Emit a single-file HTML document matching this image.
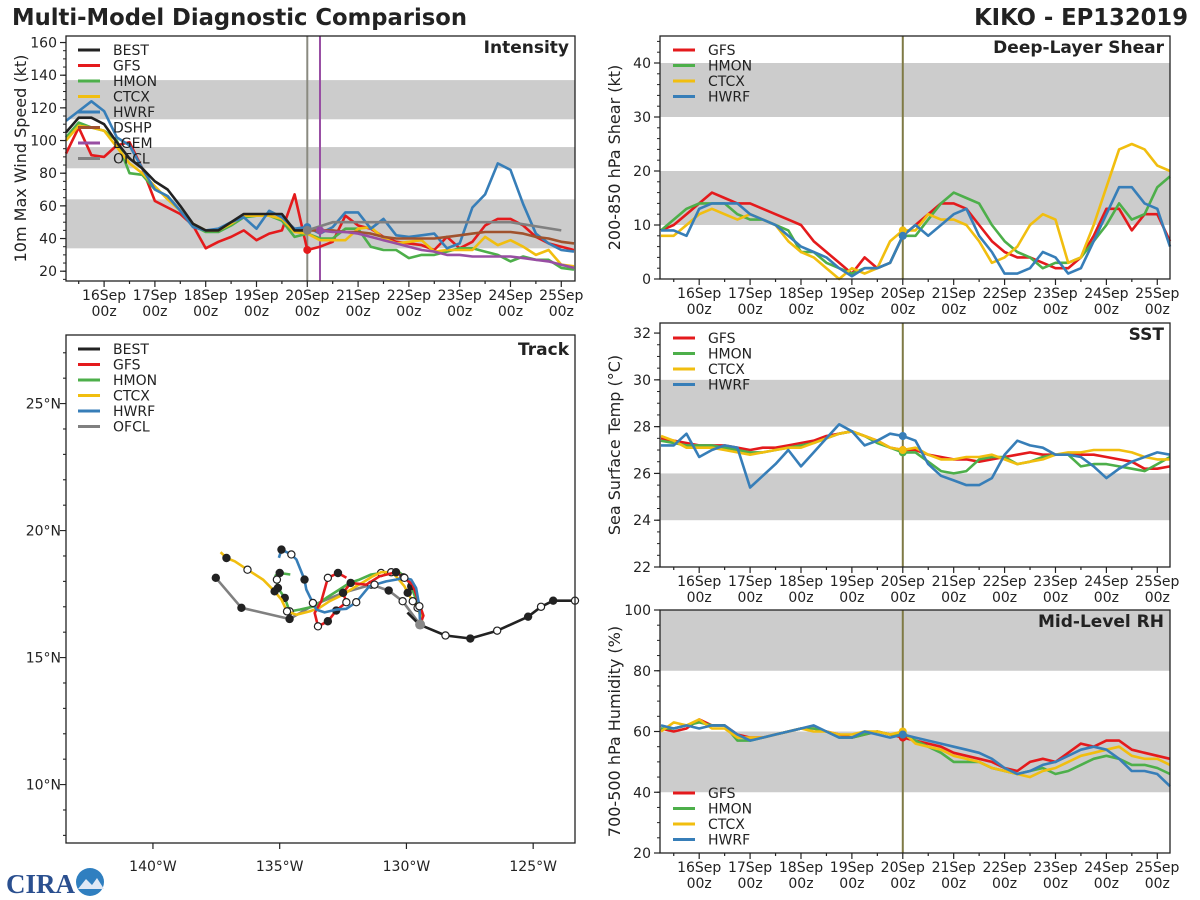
<!DOCTYPE html>
<html><head><meta charset="utf-8">
<style>
html,body{margin:0;padding:0;background:#fff;}
svg{display:block;font-family:"DejaVu Sans","Liberation Sans",sans-serif;}
</style></head>
<body>
<svg id="chart" width="1200" height="900" viewBox="0 0 1200 900" xmlns="http://www.w3.org/2000/svg">
<rect x="0" y="0" width="1200" height="900" fill="#fff"/>
<text x="12" y="25" font-size="22.7" font-weight="bold" fill="#222">Multi-Model Diagnostic Comparison</text>
<text x="1188" y="25" font-size="22.7" font-weight="bold" fill="#222" text-anchor="end">KIKO - EP132019</text>
<g>
<text x="6" y="893" font-size="27" font-weight="bold" fill="#2a4f8f" font-family="Liberation Serif, serif">CIRA</text>
<circle cx="90" cy="882" r="14" fill="#2f7fc0"/>
<path d="M78 889 L86 879 L92 885 L97 878 L104 889 Z" fill="#dfe8f5"/>
</g>
<g id="plots"></g>
</svg>
<script>
// ---------- DATA ----------
const tickDays = [0,1,2,3,4,5,6,7,8,9];
const tickLabels = ["16Sep","17Sep","18Sep","19Sep","20Sep","21Sep","22Sep","23Sep","24Sep","25Sep"];
const seriesStart = -0.75;   // day offset of first 6-hourly value (from 16Sep 00z)
const seriesStep = 0.25;     // 6 h
const initDay = 4;           // 20Sep 00z

// Intensity (kt)
const intBEST = [105,114,114,110,99,89,83,75,70,60,49,45,45,50,55,55,55,55,45,45];
const intGFS  = [92,108,91,90,97,99,83,63,59,55,48,34,38,41,45,39,43,45,67,33,35,38,54,48,46,41,38,37,36,33,41,34,38,48,52,52,48,41,37,35,33];
const intHMON = [102,111,108,106,100,80,79,70,66,57,48,44,44,48,53,54,54,51,41,43,40,40,46,46,35,33,33,28,30,30,32,34,34,32,30,26,29,27,27,22,21];
const intCTCX = [100,109,108,106,96,86,80,72,64,57,49,45,45,49,54,54,54,52,44,43,39,39,39,46,47,40,37,38,39,32,33,33,33,41,36,39,35,30,33,24,23];
const intHWRF = [112,118,124,118,102,97,83,70,66,57,47,45,46,50,53,46,57,53,46,47,43,47,56,56,46,52,42,41,42,43,34,37,59,67,86,82,61,43,37,33,32];
const intDSHP = [45,45,45,44,44,43,41,40,40,40,40,41,42,43,44,44,44,43,41,40,38,37];
const intLGEM = [45,44,44,43,41,39,37,35,33,32,30,30,29,29,29,29,28,27,26,24,22];
const ofclDays = [4,4.5,5,6,7,8,9];
const ofclVals = [45,50,50,50,50,50,45];

// Shear (kt)
const shrGFS  = [9,10,12,14,16,15,14,14,13,12,11,10,7,5,3,1,4,2,3,8,10,12,14,14,13,10,7,5,4,4,3,2,2,4,8,13,13,9,12,12,7];
const shrHMON = [9,11,13,14,14,14,12,11,11,10,9,5,5,3,2,1,2,2,3,8,8,11,14,16,15,14,10,7,5,4,2,3,3,4,7,10,14,11,12,17,19];
const shrCTCX = [8,8,10,12,13,12,11,12,11,10,7,5,4,2,0,2,1,2,7,9,9,12,11,11,10,7,3,4,6,10,12,11,3,4,10,17,24,25,24,21,20];
const shrHWRF = [9,9,8,13,14,14,14,12,11,10,8,6,5,4,2,0.5,2,2,3,8,10,8,10,12,13,8,5,1,1,2,5,4,1,2,7,12,17,17,14,13,6];

// SST (C)
const sstGFS  = [27.5,27.4,27.3,27.2,27.2,27.2,27.1,27.0,27.1,27.1,27.2,27.3,27.4,27.6,27.7,27.8,27.6,27.4,27.1,27.0,27.0,26.8,26.7,26.6,26.6,26.5,26.6,26.7,26.8,26.9,26.8,26.8,26.8,26.8,26.8,26.7,26.6,26.5,26.2,26.2,26.3];
const sstHMON = [27.4,27.3,27.2,27.2,27.2,27.1,27.0,26.9,26.9,27.0,27.1,27.2,27.3,27.5,27.7,27.8,27.6,27.3,27.1,26.9,26.9,26.5,26.1,26.0,26.1,26.6,26.7,26.7,26.4,26.5,26.7,26.8,26.8,26.3,26.4,26.4,26.3,26.2,26.1,26.4,26.7];
const sstCTCX = [27.6,27.4,27.1,27.1,27.1,27.0,26.9,26.8,26.9,27.0,27.1,27.1,27.3,27.5,27.7,27.8,27.6,27.4,27.1,27.0,27.1,26.8,26.6,26.6,26.7,26.7,26.8,26.6,26.4,26.5,26.6,26.8,26.9,26.9,27.0,27.0,27.0,26.9,26.7,26.6,26.6];
const sstHWRF = [27.2,27.2,27.7,26.7,27.0,27.2,27.1,25.4,25.9,26.4,27.0,26.3,26.9,27.5,28.1,27.8,27.2,27.4,27.7,27.6,27.4,26.4,25.9,25.7,25.5,25.5,25.8,26.8,27.4,27.2,27.1,26.8,26.8,26.7,26.3,25.8,26.2,26.5,26.7,26.9,26.8];

// RH (%)
const rhGFS  = [61,60,61,64,62,62,59,58,58,59,60,61,61,60,59,58,59,60,59,58,57,56,55,53,52,51,50,48,47,50,51,50,53,56,55,57,57,54,53,52,51];
const rhHMON = [61,61,62,63,62,62,57,57,58,59,60,61,61,60,58,58,59,60,59,59,57,55,53,50,50,50,48,47,46,47,48,46,47,49,51,52,51,49,49,48,46];
const rhCTCX = [60,63,62,64,61,61,58,58,58,59,60,61,60,60,59,59,60,60,59,60,56,55,54,52,51,50,48,47,46,45,47,48,50,52,53,54,55,52,51,51,49];
const rhHWRF = [62,61,62,61,62,62,59,57,58,59,60,61,62,60,58,58,60,59,58,59,58,57,56,55,54,53,51,48,46,47,49,50,52,54,55,54,51,47,47,46,42];

// Track (lon in deg W, lat in deg N); marks: 0 none, 1 filled, 2 open
const bestLon = [123.35,124.21,124.69,125.2,126.42,127.48,128.46,129.49,129.96];
const bestLat = [17.24,17.24,17.0,16.61,16.06,15.75,15.87,16.3,16.77];
const bestMk  = [2,1,2,1,2,1,2,0,0];
const gfsLon = [129.46,129.33,129.75,130.12,130.41,131.06,131.59,132.2,132.5,132.37,132.77,133.1,133.49,133.62,133.36,133.1,132.7,132.37];
const gfsLat = [16.3,16.65,17.87,18.16,18.36,18.2,17.87,17.94,17.55,17.18,16.85,16.43,16.23,16.76,17.22,18.14,18.33,18.14];
const gfsMk  = [1,0,0,2,1,0,0,1,1,2,1,1,2,0,0,2,1,0];
const hmonLon = [129.46,129.42,129.62,129.81,130.01,130.34,130.67,131.0,131.39,131.85,132.24,132.64,133.16,133.62,134.21,134.61,134.8,135.07,135.11,135.16,135.0,134.58];
const hmonLat = [16.3,16.69,17.28,17.81,18.14,18.4,18.36,18.33,18.27,18.07,17.94,17.68,17.35,17.02,16.89,16.82,17.35,17.74,18.07,18.23,18.33,18.27];
const hmonMk  = [0,0,0,1,0,0,0,2,0,0,0,0,0,0,0,2,1,1,2,0,1,0];
const ctcxLon = [129.49,129.36,129.56,129.75,129.95,130.08,130.41,130.6,131.0,131.33,131.65,131.98,132.5,133.03,133.43,133.82,134.34,134.71,134.93,135.2,135.66,136.27,136.77,137.1,137.33];
const ctcxLat = [16.23,16.37,16.96,17.22,17.55,17.81,18.2,18.36,18.36,18.2,18.0,17.81,17.48,17.22,16.96,16.82,16.69,16.82,17.28,17.61,18.07,18.46,18.79,18.92,19.15];
const ctcxMk  = [0,0,2,2,1,0,0,2,0,0,0,0,0,0,0,0,0,2,0,1,0,2,0,1,0];
const hwrfLon = [129.46,129.49,129.62,129.81,130.08,130.41,130.8,131.26,131.46,131.98,132.37,132.77,133.23,133.55,133.69,133.95,134.02,134.34,134.54,134.93,135.03];
const hwrfLat = [16.3,17.02,17.74,18.07,18.14,18.07,18.0,17.87,17.81,17.18,16.92,16.89,16.78,16.89,17.15,17.68,18.07,18.86,19.06,19.25,18.93];
const hwrfMk  = [0,2,0,0,2,0,0,2,0,2,0,0,0,0,2,0,1,0,2,1,0];
const ofclLon = [129.46,130.15,130.7,131.39,132.5,133.62,134.61,136.51,137.52];
const ofclLat = [16.3,17.22,17.64,17.87,17.55,17.09,16.52,16.96,18.14];
const ofclMk  = [1,2,1,2,1,0,1,1,1];

// ---------- DRAW ----------
const NS = "http://www.w3.org/2000/svg";
const root = document.getElementById("plots");
function mk(tag, attrs, parent){
  const e = document.createElementNS(NS, tag);
  for (const k in attrs) e.setAttribute(k, attrs[k]);
  (parent || root).appendChild(e);
  return e;
}
const C = {BEST:"#222222",GFS:"#e41a1c",HMON:"#4daf4a",CTCX:"#f1be0f",HWRF:"#377eb8",DSHP:"#a0522d",LGEM:"#984ea3",OFCL:"#808080"};

function makeAxis(x0,x1,y0,y1,dx0,dx1,dy0,dy1){
  return {
    x:d=>x0+(d-dx0)/(dx1-dx0)*(x1-x0),
    y:v=>y1-(v-dy0)/(dy1-dy0)*(y1-y0),
    x0,x1,y0,y1
  };
}
function seriesPath(ax, vals, start, name, color, g){
  let d = "";
  vals.forEach((v,i)=>{ d += (i?"L":"M") + ax.x(start+i*seriesStep).toFixed(1) + " " + ax.y(v).toFixed(1); });
  const p = mk("path",{d:d,fill:"none",stroke:color,"stroke-width":2.6,"stroke-linejoin":"round"},g);
  
  
  return p;
}
function initDot(ax, vals, start, color, g, name, day){
  const i = Math.round((day-start)/seriesStep);
  if (i<0 || i>=vals.length) return;
  const c = mk("circle",{cx:ax.x(day),cy:ax.y(vals[i]),r:4,fill:color},g);
  
  
}
function frameAndTimeAxis(ax, g, yTicks, yMinor, bands, ylabel, title, vlines){
  bands.forEach(b=>{
    const r = mk("rect",{x:ax.x0,y:ax.y(b[1]),width:ax.x1-ax.x0,height:ax.y(b[0])-ax.y(b[1]),fill:"#cccccc"},g);
    
    
  });
  yMinor.forEach(v=>{ mk("line",{x1:ax.x0-3,x2:ax.x0,y1:ax.y(v),y2:ax.y(v),stroke:"#222","stroke-width":1},g); });
  yTicks.forEach(v=>{
    mk("line",{x1:ax.x0-6,x2:ax.x0,y1:ax.y(v),y2:ax.y(v),stroke:"#222","stroke-width":1.2},g);
    const t = mk("text",{x:ax.x0-9,y:ax.y(v)+5,"font-size":14,"text-anchor":"end",fill:"#222"},g);
    t.textContent = v;
    
    
  });
  for (let d=-0.5; d<=9.25; d+=0.5){
    const maj = Math.abs(d-Math.round(d))<1e-6;
    mk("line",{x1:ax.x(d),x2:ax.x(d),y1:ax.y1,y2:ax.y1+(maj?6:3),stroke:"#222","stroke-width":1.2},g);
  }
  tickDays.forEach((d,i)=>{
    const t = mk("text",{x:ax.x(d),y:ax.y1+19,"font-size":14,"text-anchor":"middle",fill:"#222"},g);
    t.textContent = tickLabels[i];
    
    
    const t2 = mk("text",{x:ax.x(d),y:ax.y1+35,"font-size":14,"text-anchor":"middle",fill:"#222"},g);
    t2.textContent = "00z";
    
    
  });
  vlines.forEach(v=>{
    const l = mk("line",{x1:ax.x(v[0]),x2:ax.x(v[0]),y1:ax.y0,y2:ax.y1,stroke:v[1],"stroke-width":2},g);
    
    
  });
  const cy = (ax.y0+ax.y1)/2, lx = ax.x0-40;
  const yl = mk("text",{x:lx,y:cy,"font-size":16,"text-anchor":"middle",fill:"#222",transform:`rotate(-90 ${lx} ${cy})`},g);
  yl.textContent = ylabel;
  
  
  const tt = mk("text",{x:ax.x1-6,y:ax.y0+17,"font-size":17,"font-weight":"bold","text-anchor":"end",fill:"#222"},g);
  tt.textContent = title;
  
  
}
function frame(ax,g){
  const f = mk("rect",{x:ax.x0,y:ax.y0,width:ax.x1-ax.x0,height:ax.y1-ax.y0,fill:"none",stroke:"#222","stroke-width":1.3},g);
  
  
}
function legend(g, names, x, y0, dy){
  names.forEach((n,i)=>{
    const y = y0+i*dy;
    const l = mk("line",{x1:x,x2:x+22,y1:y,y2:y,stroke:C[n],"stroke-width":3},g);
    
    
    const t = mk("text",{x:x+35,y:y+5,"font-size":14,fill:"#222"},g);
    t.textContent = n;
    
    
  });
}
function range(a,b,s){const r=[];for(let v=a;v<=b+1e-9;v+=s)r.push(+v.toFixed(3));return r;}

// ---- Intensity ----
{
  const g = mk("g",{});
  
  
  const ax = makeAxis(66,575,36,281,-0.75,9.27,14,164);
  frameAndTimeAxis(ax,g,range(20,160,20),range(15,160,5),[[34,64],[83,96],[113,137]],"10m Max Wind Speed (kt)","Intensity",[[4,"#8a8a80"],[4.25,"#984ea3"]]);
  seriesPath(ax,intGFS,seriesStart,"gfs-line",C.GFS,g);
  seriesPath(ax,intHMON,seriesStart,"hmon-line",C.HMON,g);
  seriesPath(ax,intCTCX,seriesStart,"ctcx-line",C.CTCX,g);
  seriesPath(ax,intHWRF,seriesStart,"hwrf-line",C.HWRF,g);
  seriesPath(ax,intDSHP,initDay,"dshp-line",C.DSHP,g);
  seriesPath(ax,intLGEM,initDay+0.25,"lgem-line",C.LGEM,g);
  let d=""; ofclDays.forEach((t,i)=>{d+=(i?"L":"M")+ax.x(t)+" "+ax.y(ofclVals[i]);});
  const op = mk("path",{d:d,fill:"none",stroke:C.OFCL,"stroke-width":2.6},g);
  
  
  seriesPath(ax,intBEST,seriesStart,"best-line",C.BEST,g);
  initDot(ax,intGFS,seriesStart,C.GFS,g,"gfs-init-dot",initDay);
  initDot(ax,intHWRF,seriesStart,C.HWRF,g,"hwrf-init-dot",initDay);
  initDot(ax,intLGEM,initDay+0.25,C.LGEM,g,"lgem-init-dot",initDay+0.25);
  const od = mk("circle",{cx:ax.x(ofclDays[0]),cy:ax.y(ofclVals[0]),r:4.5,fill:C.OFCL},g);
  
  
  legend(g,["BEST","GFS","HMON","CTCX","HWRF","DSHP","LGEM","OFCL"],78,50,15.5);
  frame(ax,g);
}
// ---- right panels ----
function rightPanel(name, y0, y1, dy0, dy1, ticks, minor, bands, ylabel, title, data, legY){
  const g = mk("g",{});
  
  
  const ax = makeAxis(660,1170,y0,y1,-0.77,9.25,dy0,dy1);
  frameAndTimeAxis(ax,g,ticks,minor,bands,ylabel,title,[[4,"#7f7a45"]]);
  const nm = ["GFS","HMON","CTCX","HWRF"];
  data.forEach((arr,i)=>{ seriesPath(ax,arr,seriesStart,nm[i].toLowerCase()+"-line",C[nm[i]],g); });
  data.forEach((arr,i)=>{ initDot(ax,arr,seriesStart,C[nm[i]],g,nm[i].toLowerCase()+"-init-dot",initDay); });
  legend(g,nm,673,legY,15.5);
  frame(ax,g);
}
rightPanel("shear-panel",36,279,0,45,range(0,40,10),range(0,44,2),[[10,20],[30,40]],"200-850 hPa Shear (kt)","Deep-Layer Shear",[shrGFS,shrHMON,shrCTCX,shrHWRF],50);
rightPanel("sst-panel",323,567,22,32.43,range(22,32,2),range(22,32.4,0.5),[[24,26],[28,30]],"Sea Surface Temp (\u00B0C)","SST",[sstGFS,sstHMON,sstCTCX,sstHWRF],338);
rightPanel("rh-panel",610,853,20,100,range(20,100,20),range(20,100,5),[[40,60],[80,100]],"700-500 hPa Humidity (%)","Mid-Level RH",[rhGFS,rhHMON,rhCTCX,rhHWRF],793);

// ---- Track ----
{
  const g = mk("g",{});
  
  
  const tx = lon=>66+(143.43-lon)/(143.43-123.35)*509;
  const ty = lat=>335+(27.7-lat)/20*508;
  [140,135,130,125].forEach(l=>{
    mk("line",{x1:tx(l),x2:tx(l),y1:843,y2:849,stroke:"#222","stroke-width":1.2},g);
    const t = mk("text",{x:tx(l),y:871,"font-size":14,"text-anchor":"middle",fill:"#222"},g);
    t.textContent = l+"\u00B0W";
    
    
  });
  for (let la=8; la<=27; la++){
    const maj = la%5===0;
    mk("line",{x1:66-(maj?6:3),x2:66,y1:ty(la),y2:ty(la),stroke:"#222","stroke-width":1.1},g);
    if (maj){
      const t = mk("text",{x:61,y:ty(la)+5,"font-size":14,"text-anchor":"end",fill:"#222"},g);
      t.textContent = la+"\u00B0N";
      
      
    }
  }
  function track(lon,lat,mkA,color,name){
    let d=""; lon.forEach((v,i)=>{d+=(i?"L":"M")+tx(v).toFixed(1)+" "+ty(lat[i]).toFixed(1);});
    const p = mk("path",{d:d,fill:"none",stroke:color,"stroke-width":2.6,"stroke-linejoin":"round"},g);
    
    
    lon.forEach((v,i)=>{
      if (!mkA[i]) return;
      const c = mk("circle",{cx:tx(v),cy:ty(lat[i]),r:3.6,fill:mkA[i]===1?"#222":"#fff",stroke:"#222","stroke-width":1.2},g);
      
      
    });
  }
  track(ofclLon,ofclLat,ofclMk,C.OFCL,"ofcl-track");
  track(hmonLon,hmonLat,hmonMk,C.HMON,"hmon-track");
  track(ctcxLon,ctcxLat,ctcxMk,C.CTCX,"ctcx-track");
  track(gfsLon,gfsLat,gfsMk,C.GFS,"gfs-track");
  track(hwrfLon,hwrfLat,hwrfMk,C.HWRF,"hwrf-track");
  track(bestLon,bestLat,bestMk,C.BEST,"best-track");
  const sd = mk("circle",{cx:tx(129.46),cy:ty(16.3),r:5,fill:"#888"},g);
  
  
  legend(g,["BEST","GFS","HMON","CTCX","HWRF","OFCL"],78,349,15.5);
  const tt = mk("text",{x:569,y:355,"font-size":17,"font-weight":"bold","text-anchor":"end",fill:"#222"},g);
  tt.textContent = "Track";
  
  
  const f = mk("rect",{x:66,y:335,width:509,height:508,fill:"none",stroke:"#222","stroke-width":1.3},g);
  
  
}
</script>
</body></html>
